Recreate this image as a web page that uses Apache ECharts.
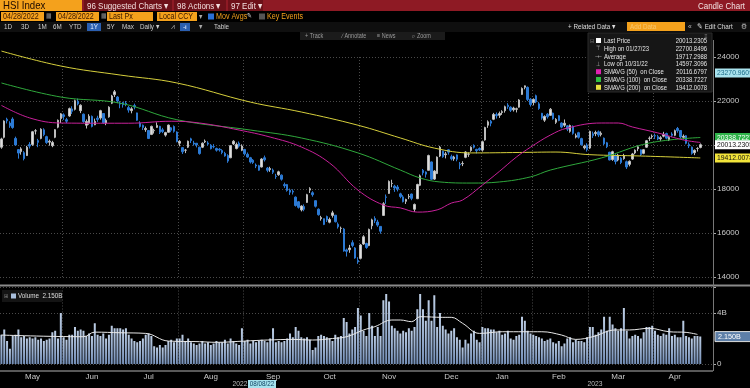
<!DOCTYPE html>
<html><head><meta charset="utf-8">
<script src="https://cdn.jsdelivr.net/npm/echarts/dist/echarts.min.js"></script>
<style>html,body{margin:0;padding:0;background:#000;}#c{width:750px;height:388px;}</style>
</head><body><div id="c"></div>
<script>
// ---- DATA: daily candles [open, close, low, high] ----
const apr22 = [[19900,20276,19830,20330],[20350,21089,20300,21120]];
const may22 = [[21170,21101,20980,21240],[21000,20870,20780,21080],[21180,20794,20740,21260],[20300,20002,19960,20380],[19790,19634,19380,19810],[19700,19824,19560,19900],[19650,19380,19300,19720],[19520,19899,19500,19960],[20020,19950,19840,20130],[20020,20602,19960,20640],[20640,20644,20480,20720],[20200,20120,19900,20280],[20300,20717,20260,20760],[20690,20471,20400,20760],[20380,20112,20050,20420],[20130,20171,19970,20250],[19970,20116,19900,20190],[20350,20697,20310,20720],[20810,21124,20760,21160],[21200,21415,21000,21450]];
const jun22 = [[21370,21294,21140,21440],[21150,21082,20990,21230],[21320,21653,21280,21700],[21640,21532,21410,21760],[21620,22014,21570,22060],[21990,21869,21800,22110],[21560,21806,21450,21850],[21400,21068,21010,21430],[20900,21068,20750,21160],[20990,21308,20920,21400],[21300,20845,20800,21340],[20920,21075,20900,21200],[21220,21164,21050,21330],[21230,21559,21150,21600],[21430,21009,20960,21440],[21000,21120,20900,21200],[21280,21719,21240,21760],[21900,22230,21860,22280],[22290,22419,22180,22500],[22180,21997,21900,22220],[21900,21860,21670,21990]];
const jul22 = [[21930,21830,21700,21960],[21900,21853,21760,22000],[21700,21587,21470,21780],[21560,21644,21440,21720],[21790,21726,21620,21880],[21460,21125,21100,21470],[21000,20845,20790,21080],[20900,20798,20680,20930],[20700,20751,20600,20840],[20660,20297,20270,20670],[20480,20846,20450,20880],[20650,20662,20520,20740],[20800,20891,20780,21030],[20850,20575,20500,20870],[20690,20610,20540,20780],[20450,20563,20380,20600],[20580,20905,20560,20930],[20780,20671,20580,20820],[20840,20622,20560,20890],[20590,20157,20120,20620]];
const aug22 = [[20080,20165,19940,20220],[19880,19690,19590,19900],[19760,19767,19630,19820],[19900,20174,19860,20200],[20280,20202,20090,20330],[20090,20046,19970,20190],[20080,20003,19890,20090],[19900,19610,19560,19920],[19900,20082,19860,20120],[20140,20175,20090,20250],[20090,20041,19970,20170],[19990,19831,19800,20040],[19930,19922,19850,20040],[19840,19764,19700,19880],[19810,19774,19700,19860],[19750,19657,19580,19810],[19620,19504,19470,19690],[19520,19269,19190,19580],[19420,19969,19400,20000],[20050,20171,20000,20220],[19840,20024,19800,20110],[20080,19950,19880,20160],[19760,19954,19720,20030]];
const sep22 = [[19800,19598,19520,19820],[19580,19452,19420,19660],[19420,19225,19160,19460],[19310,19203,19140,19360],[19090,19044,18950,19160],[19060,18854,18830,19100],[19000,19362,18980,19400],[19420,19326,19250,19520],[18950,18847,18760,19000],[18880,18930,18780,19010],[18860,18762,18680,18930],[18580,18566,18460,18690],[18650,18781,18600,18830],[18630,18445,18380,18660],[18200,18148,18050,18290],[18200,17933,17880,18230],[17950,17855,17730,18020],[17900,17860,17750,17990],[17630,17250,17200,17660],[17420,17166,17110,17450],[17050,17223,16980,17260]];
const oct22 = [[17200,17079,16990,17300],[17390,17740,17370,17780],[17950,18013,17820,18080],[17830,17740,17650,17900],[17470,17217,17160,17480],[17080,16832,16790,17120],[16650,16702,16560,16780],[16650,16389,16360,16660],[16750,16588,16500,16790],[16490,16613,16440,16700],[16800,16915,16700,17010],[16810,16512,16480,16820],[16400,16280,16200,16480],[16210,16212,16010,16290],[16180,15181,15150,16230],[15230,15166,14930,15290],[15240,15318,15100,15460],[15560,15428,15350,15670],[15320,14863,14830,15360],[14750,14687,14597,14900]];
const nov22 = [[14850,15455,14800,15500],[15500,15827,15460,15900],[15520,15340,15280,15560],[15430,16161,15400,16200],[16330,16596,16170,16650],[16660,16558,16450,16760],[16500,16359,16280,16600],[16300,16081,15970,16310],[16800,17326,16780,17400],[17640,17620,17330,17750],[17800,18344,17780,18390],[18250,18257,18080,18420],[18130,18046,17870,18190],[18090,17993,17890,18180],[17780,17656,17580,17830],[17640,17424,17390,17720],[17440,17524,17320,17560],[17640,17661,17540,17770],[17770,17574,17490,17790],[17080,17298,16960,17340],[17560,18205,17540,18240],[18170,18597,18130,18660]];
const dec22 = [[18850,18736,18620,18910],[18770,18676,18520,18800],[18850,19519,18840,19560],[19230,18442,18420,19250],[18450,18815,18410,18860],[18700,19450,18690,19480],[19500,19901,19450,19960],[19720,19464,19420,19740],[19560,19596,19390,19690],[19780,19674,19560,19810],[19470,19369,19300,19560],[19370,19451,19280,19510],[19550,19353,19260,19570],[19130,19095,18900,19230],[19150,19161,19040,19260],[19440,19680,19400,19720],[19580,19593,19460,19660],[19750,19898,19690,19940],[19980,19899,19840,20030],[19800,19741,19620,19830],[19840,19781,19730,19890]];
const jan23 = [[19770,20145,19700,20200],[20230,20793,20200,20830],[20900,21052,20780,21120],[21080,20992,20850,21140],[21170,21388,21130,21460],[21390,21331,21200,21480],[21350,21436,21230,21520],[21480,21514,21370,21580],[21560,21739,21470,21790],[21810,21746,21640,21900],[21720,21578,21500,21760],[21600,21678,21520,21740],[21620,21651,21480,21700],[21720,22045,21700,22080],[22300,22567,22280,22620],[22620,22689,22530,22701],[22620,22070,22000,22660],[22080,21842,21750,22130]];
const feb23 = [[21930,22072,21800,22120],[22240,21958,21900,22290],[21870,21660,21600,21950],[21440,21222,21150,21460],[21130,21298,21050,21350],[21400,21283,21200,21450],[21350,21624,21320,21680],[21450,21191,21150,21470],[21030,21164,20960,21220],[21330,21114,21080,21360],[21000,20813,20760,21030],[20900,20988,20820,21160],[20870,20719,20630,20900],[20620,20887,20560,20930],[20850,20529,20470,20890],[20360,20423,20300,20520],[20560,20352,20290,20600],[20290,20010,19970,20330],[19870,19944,19800,20010],[20000,19786,19700,20080]];
const mar23 = [[19860,20620,19820,20650],[20510,20429,20320,20610],[20520,20567,20400,20650],[20600,20454,20360,20660],[20480,20535,20390,20620],[20310,20052,20000,20340],[20100,19926,19860,20140],[19670,19320,19300,19690],[19340,19696,19280,19740],[19520,19248,19120,19580],[19320,19539,19260,19600],[19400,19204,19130,19450],[19380,19519,19330,19600],[19240,19001,18910,19290],[19120,19259,19030,19300],[19360,19592,19320,19640],[19640,19763,19580,19800],[19830,19916,19720,19980],[19780,19568,19500,19800],[19620,19785,19580,19820],[19900,20193,19870,20230],[20300,20310,20180,20390],[20380,20400,20280,20480]];
const apr23 = [[20420,20409,20270,20520],[20380,20275,20220,20460],[20280,20332,20190,20400],[20400,20485,20350,20600],[20520,20310,20260,20560],[20230,20345,20180,20400],[20500,20439,20360,20580],[20440,20651,20400,20700],[20750,20650,20560,20820],[20660,20368,20300,20680],[20350,20397,20250,20480],[20420,20076,20030,20450],[20030,19960,19860,20120],[19900,19618,19560,19930],[19650,19757,19540,19800],[19840,19840,19700,19900],[19890,20013,19850,20070]];

// ---- volumes (billions of shares) ----
const apr22Vol = [2.3,2.7];
const may22Vol = [1.8,1.2,2.2,2.3,2.7,2.1,2.2,2.0,2.1,2.0,2.1,1.9,2.0,1.8,1.9,2.0,2.5,2.6,2.0,4.0];
const jun22Vol = [2.1,1.9,2.3,2.3,2.9,2.6,2.7,2.6,2.2,2.4,2.2,3.2,2.3,2.2,2.4,2.0,2.3,3.0,2.8,2.8,2.8];
const jul22Vol = [2.7,2.8,2.3,2.0,1.8,1.7,1.8,2.0,2.3,2.4,2.2,1.4,1.3,1.5,1.3,1.5,1.8,1.9,1.7,2.0];
const aug22Vol = [2.0,2.3,1.8,2.0,1.7,1.6,1.5,1.6,1.8,1.6,1.7,1.5,1.6,1.8,1.7,1.7,1.9,1.6,2.0,1.8,1.6,1.5,2.8];
const sep22Vol = [1.8,1.9,1.6,1.8,1.7,1.8,1.9,1.8,1.7,2.0,2.8,1.7,1.8,1.7,1.8,2.0,2.4,2.1,2.9,2.6,2.1];
const oct22Vol = [2.0,2.1,1.9,1.1,1.3,2.2,2.3,2.2,2.1,2.0,1.8,2.3,2.1,2.2,3.6,3.3,2.4,2.7,2.9,4.4];
const nov22Vol = [3.8,2.6,2.2,4.0,3.0,2.2,2.9,2.2,5.0,5.5,4.9,3.0,2.8,2.6,2.4,2.6,2.5,2.8,2.6,2.9,4.3,5.5];
const dec22Vol = [4.3,3.4,5.0,3.4,5.4,2.9,4.0,3.0,2.7,2.4,2.6,2.8,2.1,1.9,1.3,1.9,1.6,2.4,2.6,1.9,1.7];
const jan23Vol = [2.9,2.8,2.8,2.7,2.7,2.5,2.6,2.3,2.4,2.6,2.0,1.9,2.2,2.3,3.7,3.4,2.6,2.4];
const feb23Vol = [2.3,2.2,2.1,2.0,1.8,1.9,2.0,1.7,1.6,1.8,1.4,1.6,2.0,2.1,1.7,1.9,1.8,1.8,1.7,2.1];
const mar23Vol = [2.9,2.9,2.3,2.5,2.7,3.7,2.6,3.7,3.1,2.8,2.6,2.8,4.4,2.6,2.0,2.2,2.3,2.2,2.0,2.5,2.9,2.9,3.0];
const apr23Vol = [2.6,2.3,2.2,2.4,2.3,2.8,2.2,2.3,2.1,2.1,3.4,2.2,2.1,2.0,2.2,2.2,2.15];

// ---- moving averages: [dayIndex, value] ----
const sma50 = [[0,21800],[10,21230],[21,21000],[35,20990],[45,20990],[60,21080],[70,21000],[84,20680],[95,20360],[106,19910],[116,19180],[126,17950],[135,17270],[141,17140],[147,16950],[154,17050],[159,17360],[163,17500],[170,18180],[176,18800],[182,19450],[187,19900],[194,20450],[200,20770],[212,21000],[218,21000],[223,20820],[232,20550],[241,20230],[247,20117]];
const sma100 = [[0,22820],[21,22180],[42,21900],[62,21150],[88,20680],[106,20320],[126,19640],[141,18860],[148,18500],[155,18320],[166,18270],[176,18320],[187,18550],[194,18860],[212,19410],[229,20090],[247,20340]];
const sma200 = [[0,24270],[21,23590],[42,23180],[62,22820],[88,21950],[106,21500],[126,20900],[141,20320],[153,19860],[166,19640],[183,19660],[196,19680],[208,19560],[226,19500],[247,19412]];
const volAvg = [[0,2.27],[29,2.14],[33,2.5],[42,2.45],[51,2.4],[59,1.8],[70,1.75],[76,1.7],[86,1.8],[94,1.88],[103,1.93],[110,1.88],[117,2.0],[122,2.14],[128,2.67],[132,2.93],[138,3.45],[141,3.45],[145,3.32],[148,3.71],[156,3.66],[159,3.66],[163,3.19],[169,2.4],[177,2.53],[185,2.53],[191,2.53],[198,2.27],[203,1.93],[209,2.14],[217,2.67],[222,2.67],[229,2.8],[236,2.53],[242,2.48],[246,2.32]];

// ---- axis labels, legend and tag texts ----
const monthNames = ['May','Jun','Jul','Aug','Sep','Oct','Nov','Dec','Jan','Feb','Mar','Apr'];
const monthLabelIdx = [11,32,52,74,96,116,137,159,177,197,218,238];
const gridLineIdx = [22,63,86,127,170,188,208,231];
const legendRows = [
  ['Last Price','20013.2305'],['High on 01/27/23','22700.8496'],['Average','19717.2988'],['Low on 10/31/22','14597.3096'],
  ['SMAVG (50)  on Close','20116.6797'],['SMAVG (100)  on Close','20338.7227'],['SMAVG (200)  on Close','19412.0078']
];
const priceTags = [
  [23270.9609,'23270.9609','#a9e3ee','#1a6a86'],
  [20338.7227,'20338.7227','#2fb34a','#ffffff'],
  [20013.2305,'20013.2305','#ffffff','#111111'],
  [19412.0078,'19412.0078','#f2e43a','#111111']
];
const volumeTag = [2.15,'2.150B'];

const candles = [].concat(apr22,may22,jun22,jul22,aug22,sep22,oct22,nov22,dec22,jan23,feb23,mar23,apr23);
const volumes = [].concat(apr22Vol,may22Vol,jun22Vol,jul22Vol,aug22Vol,sep22Vol,oct22Vol,nov22Vol,dec22Vol,jan23Vol,feb23Vol,mar23Vol,apr23Vol);
const days = candles.map((_, i) => 'd' + i).concat(['p1','p2','p3','p4']);

// ---- decorations ----
const el = [];
const FONT = '"Liberation Sans", Arial, sans-serif';
const SX = 0.84;
function box(x,y,w,h,fill,stroke){ el.push({type:'rect',silent:true,z:10,shape:{x,y,width:w,height:h},style:{fill,stroke:stroke||null,lineWidth:1}}); }
function txt(x,y,s,fill,size,align,sx){ el.push({type:'text',silent:true,z:11,x,y,scaleX:(sx||SX),style:{text:s,x:0,y:0,fill,font:size+'px '+FONT,align:align||'left',verticalAlign:'middle'}}); }
function ln(x1,y1,x2,y2,stroke,w){ el.push({type:'line',silent:true,z:9,shape:{x1,y1,x2,y2},style:{stroke,lineWidth:w||1}}); }

const ORANGE = '#f4a11c';
// row 1
box(0,0,750,11,'#8e1a24');
box(0,0,82,11,ORANGE); txt(3,6,'HSI Index','#1a0800',10.5,'left',0.92);
box(84,0,88,11,'#6d1119'); txt(87,6,'96 Suggested Charts \u25BE','#f2dede',9.5);
box(174,0,52,11,'#6d1119'); txt(177,6,'98 Actions \u25BE','#f2dede',9.5);
box(228,0,35,11,'#6d1119'); txt(231,6,'97 Edit \u25BE','#f2dede',9.5);
txt(745,6,'Candle Chart','#f3e3e3',9.5,'right');
// row 2
box(1,12,43,9,ORANGE); txt(3,16.5,'04/28/2022','#3a1800',8.5);
txt(46,16.5,'\u25A6','#888',7);
box(56,12,43,9,ORANGE); txt(58,16.5,'04/28/2022','#3a1800',8.5);
txt(101,16.5,'\u25A6','#888',7);
box(107,12,46,9,ORANGE); txt(109,16.5,'Last Px','#3a1800',8.5);
box(157,12,40,9,ORANGE); txt(159,16.5,'Local CCY','#3a1800',8.5);
txt(199,16.5,'\u25BE','#aaa',8);
box(208,13.5,6,6,'#2a6fd6'); txt(216,16.5,'Mov Avgs',ORANGE,8.5);
txt(247,16.5,'\u270E','#ddd',7);
box(259,13.5,6,6,'#555'); txt(267,16.5,'Key Events',ORANGE,8.5);
// row 3
box(0,22,750,10,'#0f0f0f');
[['1D',4],['3D',21],['1M',38],['6M',53],['YTD',69],['5Y',107],['Max',122],['Daily \u25BE',140]].forEach(a=>txt(a[1],27,a[0],'#cfcfcf',7.5));
box(87,23,14,8,'#2b5fb0'); txt(94,27,'1Y','#e8f0ff',7.5,'center');
txt(171,27,'\u2A58','#aaa',7.5);
box(180,23,10,8,'#2b5fb0'); txt(185,27,'\u2AE3','#e8f0ff',7,'center');
txt(199,27,'\u25BE','#aaa',7.5);
txt(214,27,'Table','#cfcfcf',7.5);
txt(568,27,'+ Related Data \u25BE','#dddddd',7.5);
box(627,22,58,9,ORANGE); txt(630,26.5,'Add Data','#f8c870',7.5);
txt(688,27,'\u00AB','#bbb',8);
txt(697,27,'\u270E Edit Chart','#dddddd',7.5);
txt(741,27,'\u2699','#bbb',8);
// row 4
box(300,32,145,8,'#1b1b1b');
txt(305,36,'+ Track','#9a9a9a',6.5); txt(342,36,'\u2215 Annotate','#9a9a9a',6.5);
txt(377,36,'\u2261 News','#9a9a9a',6.5); txt(412,36,'\u2315 Zoom','#9a9a9a',6.5);
// legend box
box(588,33,124,59,'#161616','#2a2a2a');
txt(706,36,'\u2261','#888',6,'center');
const legY = [41,48.8,56.6,64.4,72.2,80,87.8];
const legIcon = [['sq','#ffffff'],['t','\u22A4'],['t','-+-'],['t','\u22A5'],['sq','#e020b0'],['sq','#30c040'],['sq','#e8e040']];
txt(592,41,'\u229F','#777',6,'center');
legendRows.forEach((r,k)=>{
  const ic = legIcon[k];
  if (ic[0]==='sq') box(596,legY[k]-3,5,5,ic[1]); else txt(598.5,legY[k],ic[1],'#bbb',6,'center');
  txt(604,legY[k],r[0],'#e6e6e6',7.4,'left',0.8);
  txt(707,legY[k],r[1],'#e6e6e6',7.4,'right',0.8);
});
// panel borders
ln(0,285.5,750,285.5,'#8a8a8a',2);
ln(0,371,713,371,'#777',1.5);
ln(713.5,40,713.5,371,'#777',1);
// volume legend
box(2,290,60,12,'#141414');
txt(4,296,'\u229E','#888',6);
box(11,293.5,5,5,'#a9bfdc');
txt(18,296,'Volume  2.150B','#dddddd',7.5);
// bottom year labels
txt(240,384,'2022','#bbbbbb',8,'center');
box(248,380,28,8,'#a6e3ee'); txt(262,384,'08/08/22','#0d3d5d',7.5,'center');
txt(595,384,'2023','#bbbbbb',8,'center');

const chart = echarts.init(document.getElementById('c'), null, {renderer:'canvas'});
const dotted = {type:[1,2], color:'#4a4a4a', width:1};
chart.setOption({
  backgroundColor:'#000',
  animation:false,
  grid:[
    {left:0, right:37, top:57, height:220, outerBoundsMode:'none', containLabel:false},
    {left:0, right:37, top:287.5, height:76.5, outerBoundsMode:'none', containLabel:false}
  ],
  xAxis:[
    {type:'category', gridIndex:0, data:days, boundaryGap:true, axisLine:{show:false}, axisTick:{show:false}, axisLabel:{show:false},
     splitLine:{show:true, interval:(i)=>gridLineIdx.includes(i), lineStyle:dotted}},
    {type:'category', gridIndex:1, data:days, boundaryGap:true, axisLine:{show:false}, axisTick:{show:false},
     axisLabel:{show:true, interval:(i)=>monthLabelIdx.includes(i), formatter:(v,i)=>monthNames[monthLabelIdx.indexOf(i)],
       color:'#c8c8c8', fontSize:8, fontFamily:FONT, margin:9},
     splitLine:{show:true, interval:(i)=>gridLineIdx.includes(i), lineStyle:dotted}}
  ],
  yAxis:[
    {type:'value', gridIndex:0, position:'right', min:14000, max:24000, interval:2000,
     axisLine:{show:false}, axisTick:{show:true, length:3, lineStyle:{color:'#aaa'}},
     axisLabel:{color:'#c8c8c8', fontSize:8, fontFamily:FONT, margin:4, formatter:(v)=>String(v)},
     splitLine:{show:true, lineStyle:dotted}},
    {type:'value', gridIndex:1, position:'right', min:0, max:6, interval:4,
     axisLine:{show:false}, axisTick:{show:true, length:3, lineStyle:{color:'#aaa'}},
     axisLabel:{color:'#c8c8c8', fontSize:8, fontFamily:FONT, margin:4, formatter:(v)=> v===0?'0':(v===4?'4B':'')},
     splitLine:{show:true, lineStyle:dotted}}
  ],
  series:[
    {type:'candlestick', xAxisIndex:0, yAxisIndex:0, data:candles, barWidth:2,
     itemStyle:{color:'#dedede', color0:'#2c7ad4', borderColor:'#bdbdbd', borderColor0:'#2c7ad4', borderWidth:1}},
    {type:'line', xAxisIndex:0, yAxisIndex:0, data:sma200, smooth:0.4, symbol:'none', clip:false, lineStyle:{color:'#d6cf3c', width:1}, z:3},
    {type:'line', xAxisIndex:0, yAxisIndex:0, data:sma100, smooth:0.4, symbol:'none', clip:false, lineStyle:{color:'#2fa83c', width:1}, z:3},
    {type:'line', xAxisIndex:0, yAxisIndex:0, data:sma50, smooth:0.4, symbol:'none', clip:false, lineStyle:{color:'#c8209a', width:1}, z:3},
    {type:'bar', xAxisIndex:1, yAxisIndex:1, data:volumes, barWidth:2,
     itemStyle:{color:new echarts.graphic.LinearGradient(0,0,0,1,[{offset:0,color:'#bccde4'},{offset:1,color:'#7590b8'}])}},
    {type:'line', xAxisIndex:1, yAxisIndex:1, data:volAvg, smooth:0.4, symbol:'none', lineStyle:{color:'#e8e8e8', width:1}, z:4}
  ]
});

// value tags on the right axis, positioned through the chart's own y scales
priceTags.forEach(t => {
  const y = chart.convertToPixel({yAxisIndex:0}, t[0]);
  box(715, y-4.5, 40, 9, t[2]);
  txt(717, y, t[1], t[3], 8, 'left', 0.85);
});
{
  const y = chart.convertToPixel({yAxisIndex:1}, volumeTag[0]);
  box(715, y-5, 40, 10, '#5d7fa8', '#dddddd');
  txt(718, y, volumeTag[1], '#ffffff', 8, 'left', 0.9);
}
chart.setOption({graphic:{elements:el}});
</script></body></html>
